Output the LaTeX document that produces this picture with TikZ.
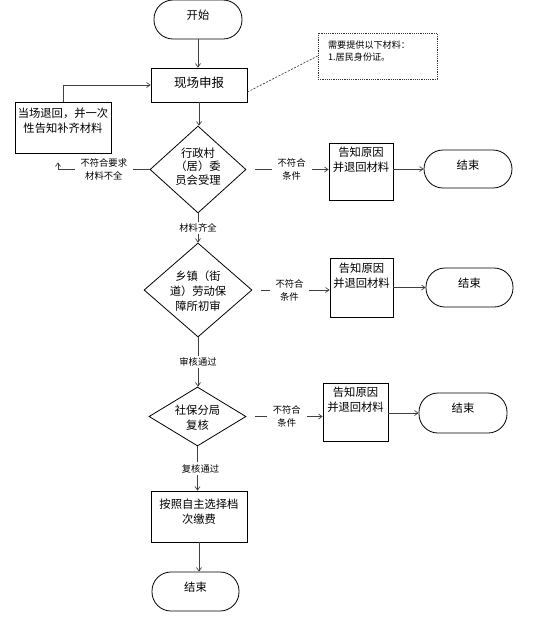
\documentclass[tikz,border=0pt]{standalone}
\usepackage{fontspec}
\setmainfont{Noto Sans CJK SC}
\usetikzlibrary{shapes.geometric,arrows.meta}
\tikzset{
  base/.style={draw=black, line width=0.8pt, inner sep=0pt},
  box/.style={base, rectangle},
  term/.style={base, rectangle, rounded corners=19pt},
  dec/.style={base, diamond},
  txt/.style={font=\fontsize{11.3}{15}\selectfont, align=center},
  arr/.style={draw=black!75, line width=0.7pt, -{Straight Barb[length=3.5pt,width=5pt]}},
  ln/.style={draw=black!75, line width=0.7pt},
  lbl/.style={fill=white, font=\fontsize{9.3}{13}\selectfont, align=center, inner xsep=6pt, inner ysep=1pt},
}
\begin{document}
\begin{tikzpicture}[x=1pt,y=-1pt]
\useasboundingbox (0,0) rectangle (544,625);
% nodes
\node[term, minimum width=88pt, minimum height=39pt, label={[txt,yshift=4.5pt]center:开始}] (start) at (198,19.5) {};
\node[box, minimum width=96pt, minimum height=34pt, label={[txt,font=\fontsize{12.5}{15}\selectfont,yshift=2pt]center:现场申报}] (apply) at (199,85) {};
\node[box, draw=black!80, dash pattern=on 1.2pt off 1pt, minimum width=119pt, minimum height=46pt,
  label={[anchor=west, xshift=7pt, yshift=5pt, align=left, font=\fontsize{9.1}{12}\selectfont]west:{需要提供以下材料：\\1.居民身份证。}}] (note) at (377.5,56) {};
\node[box, minimum width=96pt, minimum height=51pt, label={[txt,yshift=7pt]center:{当场退回，并一次\\性告知补齐材料}}] (back) at (63,127.5) {};
\node[dec, minimum width=96pt, minimum height=87pt, label={[txt,font=\fontsize{11.3}{13.5}\selectfont,yshift=3pt]center:{行政村\\（居）委\\员会受理}}] (d1) at (198,169.5) {};
\node[box, minimum width=64pt, minimum height=57pt, label={[txt,yshift=12pt]center:{告知原因\\并退回材料}}] (box1) at (361,171.5) {};
\node[term, minimum width=88pt, minimum height=38pt, label={[txt,yshift=4pt]center:结束}] (end1) at (468,169) {};
\node[dec, minimum width=108pt, minimum height=94pt, label={[txt,yshift=-1.5pt]center:{乡镇（街\\道）劳动保\\障所初审}}] (d2) at (198,290) {};
\node[box, minimum width=63pt, minimum height=59pt, label={[txt,yshift=12pt]center:{告知原因\\并退回材料}}] (box2) at (361.5,287.5) {};
\node[term, minimum width=87pt, minimum height=39pt, label={[txt,yshift=4.5pt]center:结束}] (end2) at (469.5,287.5) {};
\node[dec, minimum width=97pt, minimum height=59pt, label={[txt,yshift=-1.5pt]center:{社保分局\\复核}}] (d3) at (197.5,416.5) {};
\node[box, minimum width=65pt, minimum height=58pt, label={[txt,yshift=12.5pt]center:{告知原因\\并退回材料}}] (box3) at (355.5,412) {};
\node[term, minimum width=88pt, minimum height=40pt, label={[txt,yshift=5pt]center:结束}] (end3) at (463,413) {};
\node[box, minimum width=96pt, minimum height=51pt, label={[txt,yshift=5pt]center:{按照自主选择档\\次缴费}}] (final) at (199,516.5) {};
\node[term, minimum width=87pt, minimum height=39pt, label={[txt,yshift=4.5pt]center:结束}] (end4) at (195.5,591.5) {};
% connectors
\draw[arr] (start) -- (start |- apply.north);
\draw[arr] (apply) -- (apply |- d1.north);
\draw[ln, dash pattern=on 2pt off 1.5pt] ([yshift=-7pt]apply.east) -- (note.west);
\draw[arr] (back.north) |- (apply.west);
\draw[arr] (d1.west) -| ([xshift=-5pt,yshift=-9pt]back.south) node[lbl, pos=0.25] {不符合要求\\材料不全};
\draw[arr, shorten <=9pt] (d1.east) -- (d1.east -| box1.west) node[lbl, pos=0.55] {不符合\\条件};
\draw[arr] (box1.east |- end1) -- (end1.west);
\draw[arr] (d1.south) -- (d2.north) node[lbl, midway, inner ysep=2pt] {材料齐全};
\draw[arr, shorten <=9pt] (d2.east) -- (d2.east -| box2.west) node[lbl, pos=0.48] {不符合\\条件};
\draw[arr] (box2.east |- end2) -- (end2.west);
\draw[arr] (d2.south) -- (d2.south |- d3.north) node[lbl, midway, inner ysep=2pt] {审核通过};
\draw[arr, shorten <=9pt] (d3.east) -- (d3.east -| box3.west) node[lbl, pos=0.53] {不符合\\条件};
\draw[arr] (box3.east |- end3) -- (end3.west);
\draw[arr] (d3.south) -- (d3.south |- final.north) node[lbl, midway, inner ysep=2pt, xshift=3pt] {复核通过};
\draw[arr] (final) -- (final |- end4.north);
\end{tikzpicture}
\end{document}
